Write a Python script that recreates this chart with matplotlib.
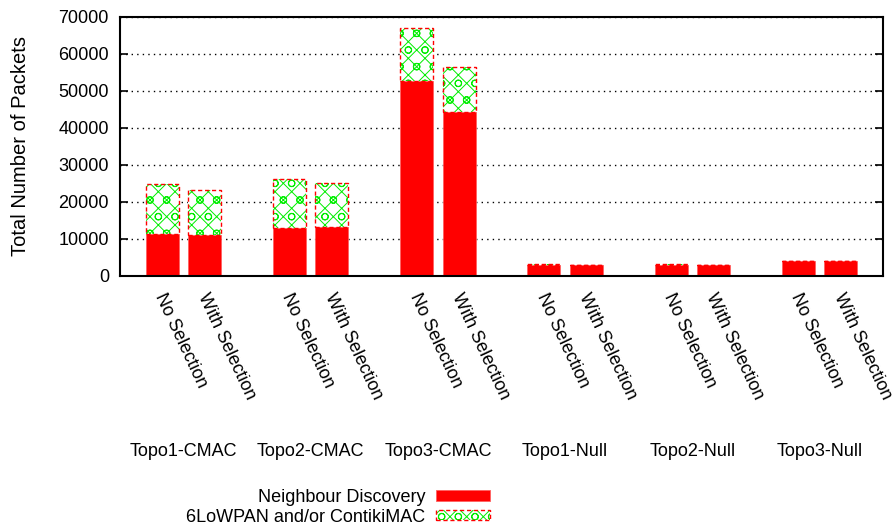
import matplotlib
matplotlib.use("Agg")
import matplotlib.pyplot as plt
from matplotlib.patches import Rectangle
from matplotlib.legend_handler import HandlerTuple

plt.rcParams['font.family'] = ['Liberation Sans', 'DejaVu Sans']
plt.rcParams['hatch.linewidth'] = 0.7

# data (packets)
groups = ["Topo1-CMAC", "Topo2-CMAC", "Topo3-CMAC", "Topo1-Null", "Topo2-Null", "Topo3-Null"]
bar_labels = ["No Selection", "With Selection"]
neighbour_discovery = [11200, 10900, 12900, 13000, 52700, 44200,
                       2950, 2850, 2900, 2850, 3900, 3850]
lowpan_contikimac = [13600, 12200, 13200, 12000, 14300, 12200,
                     80, 50, 200, 60, 60, 60]

GREEN = "#00ee00"
RED = "#ff0000"
WIDTH = 0.78
HATCH = "xxo"

fig = plt.figure(figsize=(8.96, 5.27), dpi=100)
ax = fig.add_axes([120 / 896, 1 - 275.5 / 527, (883 - 120) / 896, (275.5 - 16.5) / 527])

positions = []
for g in range(len(groups)):
    positions += [3 * g, 3 * g + 1]

ax.bar(positions, neighbour_discovery, width=WIDTH, color=RED, edgecolor="#ff6060",
       linewidth=0.6, zorder=2)
ax.bar(positions, lowpan_contikimac, width=WIDTH, bottom=neighbour_discovery,
       color="white", edgecolor=GREEN, hatch=HATCH, linewidth=0, zorder=2)
ax.bar(positions, lowpan_contikimac, width=WIDTH, bottom=neighbour_discovery,
       fill=False, edgecolor=RED, linestyle=(0, (3, 2)), linewidth=1.0, zorder=3)

ax.set_xlim(-1, 17)
ax.set_ylim(0, 70000)
ax.set_yticks(range(0, 70001, 10000))
ax.tick_params(axis="y", direction="in", length=6, width=1.2, right=True,
               labelsize=13, pad=8)
ax.set_xticks([])
ax.yaxis.grid(True, color="black", linestyle=(0, (1, 3)), linewidth=1.0)
ax.set_axisbelow(True)
for s in ax.spines.values():
    s.set_linewidth(1.5)
ax.set_ylabel("Total Number of Packets", fontsize=14.5, labelpad=20)

# rotated bar labels
for i, p in enumerate(positions):
    ax.annotate(bar_labels[i % 2], xy=(p, 0), xycoords=("data", "axes fraction"),
                xytext=(-3, -19), textcoords="offset pixels",
                rotation=-65, rotation_mode="anchor", ha="left", va="center",
                fontsize=13)

# group labels
for g, name in enumerate(groups):
    ax.annotate(name, xy=(3 * g + 0.5, 0), xycoords=("data", "axes fraction"),
                xytext=(0, -176), textcoords="offset pixels",
                ha="center", va="center", fontsize=13)

h_nd = Rectangle((0, 0), 1, 1, facecolor=RED, edgecolor="#ff6060", linewidth=0.6)
h_hatch = Rectangle((0, 0), 1, 1, facecolor="white", edgecolor=GREEN, hatch=HATCH, linewidth=0)
h_edge = Rectangle((0, 0), 1, 1, fill=False, edgecolor=RED, linestyle=(0, (3, 2)), linewidth=1.0)
fig.legend([h_nd, (h_hatch, h_edge)], ["Neighbour Discovery", "6LoWPAN and/or ContikiMAC"],
           handler_map={tuple: HandlerTuple(ndivide=1, pad=0)},
           loc="upper right", bbox_to_anchor=(490 / 896, 1 - 489 / 527),
           markerfirst=False, frameon=False, fontsize=13, borderpad=0, borderaxespad=0,
           handlelength=3.0, handleheight=0.5, handletextpad=0.6, labelspacing=0.15)

fig.savefig("out.png", dpi=100)
